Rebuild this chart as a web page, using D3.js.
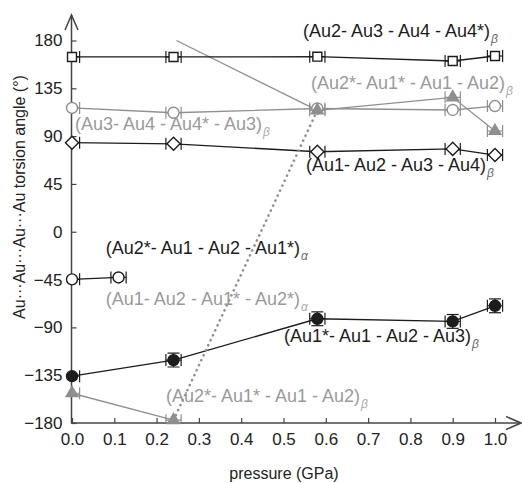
<!DOCTYPE html>
<html><head><meta charset="utf-8">
<script src="https://cdn.jsdelivr.net/npm/d3@7"></script>
<style>body{margin:0;background:#fff}svg{display:block}text{font-family:"Liberation Sans",Arial,sans-serif}</style>
</head><body>
<svg id="c" width="522" height="483"></svg>
<script>
const pressureBeta = [0, 0.24, 0.58, 0.9, 1.0];
const pressureAlpha = [0, 0.11];
const squareVals = [164.5, 164.5, 164.8, 160.7, 165.4];        // (Au2-Au3-Au4-Au4*)β
const greyCircleVals = [116.5, 112, 116, 114.6, 118.3];        // (Au3-Au4-Au4*-Au3)β
const diamondVals = [83.8, 82.8, 75.3, 78, 72.2];              // (Au1-Au2-Au3-Au4)β
const triangleVals = [-152, -177.3, 114.3, 126.5, 94.8];       // (Au2*-Au1*-Au1-Au2)β
const filledVals = [-135.9, -120.8, -81.9, -84.4, -69.7];      // (Au1*-Au1-Au2-Au3)β
const alphaOpenVals = [-44.8, -43];                            // (Au2*-Au1-Au2-Au1*)α
const wrapLine = [[0.247, 180], [0.58, 114.3]];
const xTicks = [0,0.1,0.2,0.3,0.4,0.5,0.6,0.7,0.8,0.9,1.0];
const yTicks = [-180,-135,-90,-45,0,45,90,135,180];
const labels = [
  {t:"(Au2- Au3 - Au4 - Au4*)", s:"β", p:0.546, v:183.3, g:false},
  {t:"(Au2*- Au1* - Au1 - Au2)", s:"β", p:0.565, v:134.3, g:true},
  {t:"(Au3- Au4 - Au4* - Au3)", s:"β", p:0.007, v:95.7, g:true},
  {t:"(Au1- Au2 - Au3 - Au4)", s:"β", p:0.553, v:57.1, g:false},
  {t:"(Au2*- Au1 - Au2 - Au1*)", s:"α", p:0.080, v:-21.0, g:false},
  {t:"(Au1- Au2 - Au1* - Au2*)", s:"α", p:0.080, v:-69.0, g:true},
  {t:"(Au1*- Au1 - Au2 - Au3)", s:"β", p:0.501, v:-103.8, g:false},
  {t:"(Au2*- Au1* - Au1 - Au2)", s:"β", p:0.222, v:-160.3, g:true}
];

const BLACK = "#1c1c1c", GREY = "#8f8f8f", GREYT = "#9a9a9a";
const svg = d3.select("#c");
const x = d3.scaleLinear().domain([0,1]).range([72,495]);
const y = d3.scaleLinear().domain([-180,180]).range([423,40.5]);
const X0 = 71.5, Y0 = 423;

svg.append("defs").append("clipPath").attr("id","clip")
  .append("rect").attr("x",X0).attr("y",0).attr("width",522-X0).attr("height",Y0);

// axes
const gx = svg.append("g").attr("transform",`translate(0,${Y0})`)
  .call(d3.axisBottom(x).tickValues(xTicks).tickFormat(d3.format(".1f")).tickSize(-5).tickPadding(10));
const gy = svg.append("g").attr("transform",`translate(${X0},0)`)
  .call(d3.axisLeft(y).tickValues(yTicks).tickSize(-5).tickPadding(9));
[gx,gy].forEach(g=>{
  g.select(".domain").remove();
  g.selectAll("line").attr("stroke","#444").attr("stroke-width",1.2);
  g.selectAll("text").attr("font-size",17).attr("fill","#222").attr("font-family","Liberation Sans, Arial, sans-serif");
});
const axisC = "#444";
svg.append("line").attr("x1",X0).attr("x2",X0).attr("y1",Y0+0.5).attr("y2",15).attr("stroke",axisC).attr("stroke-width",1.5);
svg.append("path").attr("d",`M${X0-6.5},30L${X0},15L${X0+6.5},30`).attr("fill","none").attr("stroke",axisC).attr("stroke-width",1.5);
svg.append("line").attr("x1",X0).attr("x2",521).attr("y1",Y0).attr("y2",Y0).attr("stroke",axisC).attr("stroke-width",1.5);
svg.append("path").attr("d",`M506,${Y0-6.5}L521,${Y0}L506,${Y0+6.5}`).attr("fill","none").attr("stroke",axisC).attr("stroke-width",1.5);

svg.append("text").attr("x",284).attr("y",479).attr("text-anchor","middle").attr("font-size",16).attr("fill","#222").text("pressure (GPa)");
svg.append("text").attr("transform","translate(25,197) rotate(-90)").attr("text-anchor","middle").attr("font-size",16).attr("fill","#222").text("Au···Au···Au···Au torsion angle (°)");

const plot = svg.append("g").attr("clip-path","url(#clip)");
const line = d3.line().x(d=>x(d[0])).y(d=>y(d[1]));
const zip = (ps,vs)=>ps.map((p,i)=>[p,vs[i]]);

// lines
plot.append("path").datum(wrapLine).attr("d",line).attr("fill","none").attr("stroke",GREY).attr("stroke-width",1.3);
function series(ps,vs,color){
  plot.append("path").datum(zip(ps,vs)).attr("d",line).attr("fill","none").attr("stroke",color).attr("stroke-width",1.3);
}
series(pressureBeta,squareVals,BLACK);
series(pressureBeta,greyCircleVals,GREY);
series(pressureBeta,diamondVals,BLACK);
series(pressureBeta,filledVals,BLACK);
series(pressureAlpha,alphaOpenVals,BLACK);
const tri = zip(pressureBeta,triangleVals);
plot.append("path").datum(tri.slice(0,2)).attr("d",line).attr("fill","none").attr("stroke",GREY).attr("stroke-width",1.3);
plot.append("path").datum(tri.slice(2)).attr("d",line).attr("fill","none").attr("stroke",GREY).attr("stroke-width",1.3);
plot.append("path").datum(tri.slice(1,3)).attr("d",line).attr("fill","none").attr("stroke",GREY).attr("stroke-width",2.6)
  .attr("stroke-dasharray","0.1 5.4").attr("stroke-linecap","round");

// error bars
const ex = 0.018;
function xerr(ps,vs,color){
  zip(ps,vs).forEach(d=>{
    const cy = y(d[1]), xl = x(d[0]-ex), xr = x(d[0]+ex);
    plot.append("line").attr("x1",xl).attr("x2",xr).attr("y1",cy).attr("y2",cy).attr("stroke",color).attr("stroke-width",1.2);
    [xl,xr].forEach(xx=>plot.append("line").attr("x1",xx).attr("x2",xx).attr("y1",cy-6).attr("y2",cy+6).attr("stroke",color).attr("stroke-width",1.2));
  });
}
xerr(pressureBeta,squareVals,BLACK);
xerr(pressureBeta,greyCircleVals,GREY);
xerr(pressureBeta,diamondVals,BLACK);
xerr(pressureBeta,triangleVals,GREY);
xerr(pressureBeta,filledVals,BLACK);
xerr(pressureAlpha,alphaOpenVals,BLACK);
zip(pressureBeta,filledVals).slice(1).forEach(d=>{
  const cx = x(d[0]), yt = y(d[1]+6.5), yb = y(d[1]-6.5);
  plot.append("line").attr("x1",cx).attr("x2",cx).attr("y1",yt).attr("y2",yb).attr("stroke",BLACK).attr("stroke-width",1.2);
  [yt,yb].forEach(yy=>plot.append("line").attr("x1",cx-6).attr("x2",cx+6).attr("y1",yy).attr("y2",yy).attr("stroke",BLACK).attr("stroke-width",1.2));
});

// markers
const mk = svg.append("g");
function markers(ps,vs,type,size,fill,stroke){
  mk.selectAll(null).data(zip(ps,vs)).join("path")
    .attr("transform",d=>`translate(${x(d[0])},${y(d[1])})`)
    .attr("d",d3.symbol().type(type).size(size))
    .attr("fill",fill).attr("stroke",stroke).attr("stroke-width",1.4);
}
const diamondSym = {draw(ctx,size){const r=Math.sqrt(size)/1.6;ctx.moveTo(0,-r);ctx.lineTo(r,0);ctx.lineTo(0,r);ctx.lineTo(-r,0);ctx.closePath();}};
markers(pressureBeta,squareVals,d3.symbolSquare,80,"#fff",BLACK);
markers(pressureBeta,greyCircleVals,d3.symbolCircle,95,"#fff",GREY);
markers(pressureBeta,diamondVals,diamondSym,110,"#fff",BLACK);
markers(pressureBeta,triangleVals,d3.symbolTriangle,60,GREY,GREY);
markers(pressureBeta,filledVals,d3.symbolCircle,95,BLACK,BLACK);
markers(pressureAlpha,alphaOpenVals,d3.symbolCircle,95,"#fff",BLACK);

// labels
labels.forEach(l=>{
  const t = svg.append("text").attr("x",x(l.p)).attr("y",y(l.v)).attr("font-size",18)
    .attr("fill",l.g?GREYT:BLACK).text(l.t);
  t.append("tspan").attr("font-size",12).attr("font-style","italic").attr("dy",6).attr("dx",1)
    .attr("fill",l.g?"#aaa":"#666").text(l.s);
});
</script>
</body></html>
